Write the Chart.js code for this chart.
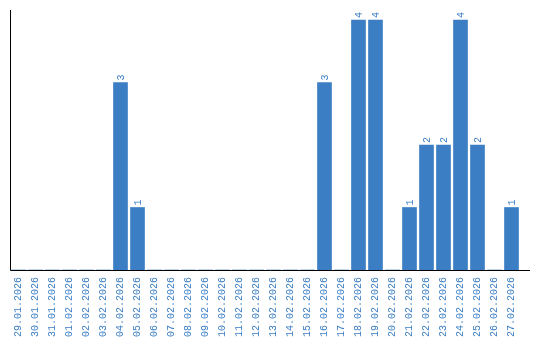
<!DOCTYPE html>
<html>
<head>
<meta charset="utf-8">
<script src="https://cdn.jsdelivr.net/npm/chart.js@4/dist/chart.umd.min.js"></script>
<style>
  html, body { margin: 0; padding: 0; background: #fff; }
  #wrap { width: 540px; height: 340px; }
</style>
</head>
<body>
<div id="wrap"><canvas id="grafico"></canvas></div>
<script>
// dias do período
const dias = [
  '29.01.2026', '30.01.2026', '31.01.2026', '01.02.2026', '02.02.2026', '03.02.2026',
  '04.02.2026', '05.02.2026', '06.02.2026', '07.02.2026', '08.02.2026', '09.02.2026',
  '10.02.2026', '11.02.2026', '12.02.2026', '13.02.2026', '14.02.2026', '15.02.2026',
  '16.02.2026', '17.02.2026', '18.02.2026', '19.02.2026', '20.02.2026', '21.02.2026',
  '22.02.2026', '23.02.2026', '24.02.2026', '25.02.2026', '26.02.2026', '27.02.2026'
];
// quantidade por dia
const quantidades = [
  0, 0, 0, 0, 0, 0,
  3, 1, 0, 0, 0, 0,
  0, 0, 0, 0, 0, 0,
  3, 0, 4, 4, 0, 1,
  2, 2, 4, 2, 0, 1
];

const AZUL = '#3b7ec3';
const FONTE = '10px "Liberation Mono", "DejaVu Sans Mono", monospace';

// rótulos de valor acima das barras (texto girado)
const rotulosPlugin = {
  id: 'rotulos',
  afterDatasetsDraw(chart) {
    const ctx = chart.ctx;
    const meta = chart.getDatasetMeta(0);
    ctx.save();
    ctx.font = FONTE;
    ctx.fillStyle = AZUL;
    ctx.textAlign = 'left';
    ctx.textBaseline = 'middle';
    meta.data.forEach((bar, i) => {
      const v = quantidades[i];
      if (!v) return;
      ctx.save();
      ctx.translate(bar.x + 0.5, bar.y - 2);
      ctx.rotate(-Math.PI / 2);
      ctx.fillText(String(v), 0, 0);
      ctx.restore();
    });
    ctx.restore();
  }
};

// eixos desenhados à mão (linha do x passa um pouco do último dia)
const eixosPlugin = {
  id: 'eixos',
  afterDraw(chart) {
    const { ctx, chartArea } = chart;
    ctx.save();
    ctx.strokeStyle = '#000';
    ctx.lineWidth = 1;
    ctx.beginPath();
    ctx.moveTo(chartArea.left + 0.5, chartArea.top);
    ctx.lineTo(chartArea.left + 0.5, chartArea.bottom + 0.5);
    ctx.lineTo(530, chartArea.bottom + 0.5);
    ctx.stroke();
    ctx.restore();
  }
};

new Chart(document.getElementById('grafico'), {
  type: 'bar',
  data: {
    labels: dias,
    datasets: [{
      data: quantidades,
      backgroundColor: AZUL,
      borderWidth: 0,
      barThickness: 14
    }]
  },
  options: {
    responsive: true,
    maintainAspectRatio: false,
    animation: false,
    layout: { padding: { left: 10, top: 10, right: 20, bottom: 0 } },
    plugins: { legend: { display: false }, tooltip: { enabled: false } },
    scales: {
      x: {
        grid: { display: false, drawTicks: false },
        border: { display: false },
        ticks: {
          autoSkip: false,
          minRotation: 90,
          maxRotation: 90,
          padding: 7,
          color: AZUL,
          font: { family: '"Liberation Mono", "DejaVu Sans Mono", monospace', size: 10 }
        },
        afterFit(scale) { scale.height = 70; }
      },
      y: {
        display: false,
        min: 0,
        max: 4.16
      }
    }
  },
  plugins: [rotulosPlugin, eixosPlugin]
});
</script>
</body>
</html>
